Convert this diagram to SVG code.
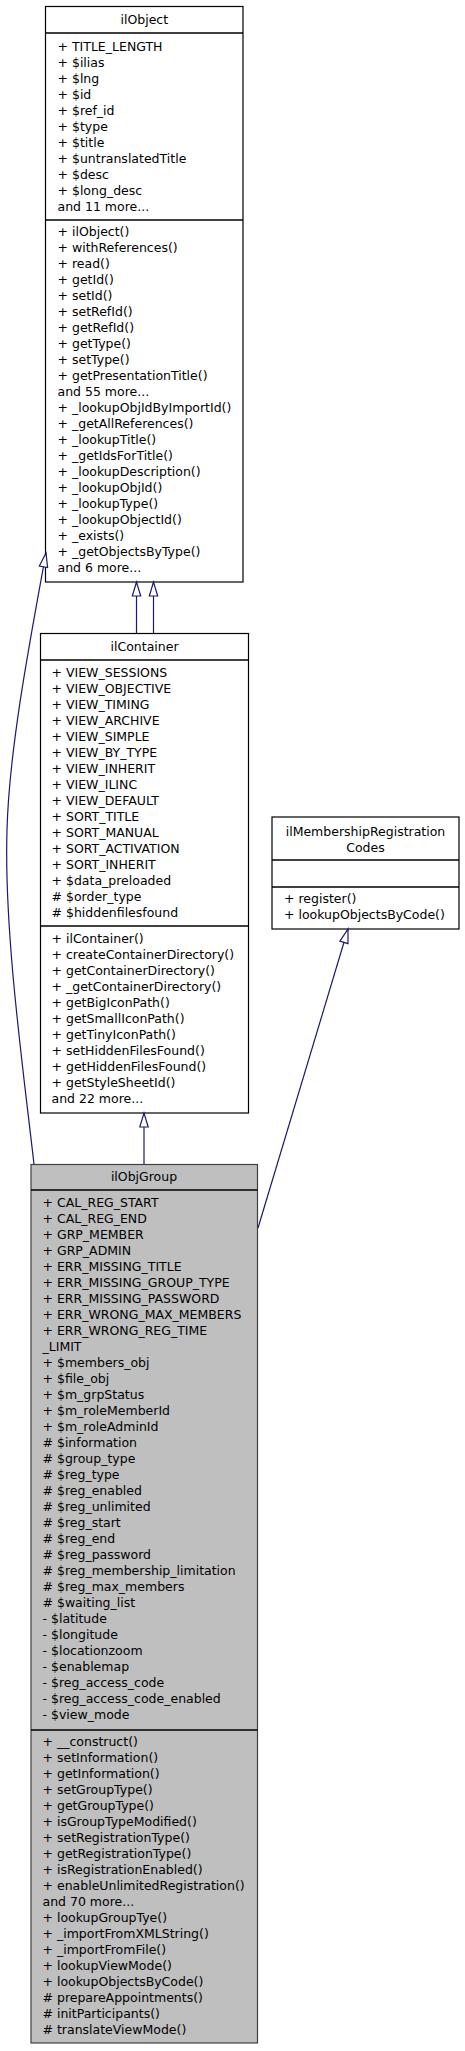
<svg xmlns="http://www.w3.org/2000/svg" width="465" height="2051" viewBox="0 0 465 2051">
<style>
text{font-family:"DejaVu Sans","Liberation Sans",sans-serif;font-size:12.5px;fill:#000}
.t{text-anchor:middle}
.box{fill:#fff;stroke:#000;stroke-width:1.2}
.cur{fill:#bfbfbf;stroke:#404040;stroke-width:1.2}
.sep{stroke:#000;stroke-width:1.5}
.edge{fill:none;stroke:#191970;stroke-width:1.2;marker-end:url(#inh)}
</style>
<defs>
<marker id="inh" markerUnits="userSpaceOnUse" viewBox="-1 -6 17 12" refX="14" refY="0" markerWidth="17" markerHeight="12" orient="auto" overflow="visible">
<path d="M0,-4.2 L14,0 L0,4.2 Z" fill="#fff" stroke="#191970" stroke-width="1.2"/>
</marker>
</defs>
<rect width="465" height="2051" fill="#fff"/>

<g id="ilObject">
<rect class="box" x="45.5" y="6.5" width="197.5" height="575.5"/>
<line class="sep" x1="45.5" y1="33" x2="243" y2="33"/>
<line class="sep" x1="45.5" y1="220" x2="243" y2="220"/>
<text class="t" x="144.3" y="23.5">ilObject</text>
<text x="57.5" y="50.5">+ TITLE_LENGTH</text>
<text x="57.5" y="66.5">+ $ilias</text>
<text x="57.5" y="82.5">+ $lng</text>
<text x="57.5" y="98.5">+ $id</text>
<text x="57.5" y="114.5">+ $ref_id</text>
<text x="57.5" y="130.5">+ $type</text>
<text x="57.5" y="146.5">+ $title</text>
<text x="57.5" y="162.5">+ $untranslatedTitle</text>
<text x="57.5" y="178.5">+ $desc</text>
<text x="57.5" y="194.5">+ $long_desc</text>
<text x="57.5" y="210.5">and 11 more...</text>
<text x="57.5" y="235.5">+ ilObject()</text>
<text x="57.5" y="251.5">+ withReferences()</text>
<text x="57.5" y="267.5">+ read()</text>
<text x="57.5" y="283.5">+ getId()</text>
<text x="57.5" y="299.5">+ setId()</text>
<text x="57.5" y="315.5">+ setRefId()</text>
<text x="57.5" y="331.5">+ getRefId()</text>
<text x="57.5" y="347.5">+ getType()</text>
<text x="57.5" y="363.5">+ setType()</text>
<text x="57.5" y="379.5">+ getPresentationTitle()</text>
<text x="57.5" y="395.5">and 55 more...</text>
<text x="57.5" y="411.5">+ _lookupObjIdByImportId()</text>
<text x="57.5" y="427.5">+ _getAllReferences()</text>
<text x="57.5" y="443.5">+ _lookupTitle()</text>
<text x="57.5" y="459.5">+ _getIdsForTitle()</text>
<text x="57.5" y="475.5">+ _lookupDescription()</text>
<text x="57.5" y="491.5">+ _lookupObjId()</text>
<text x="57.5" y="507.5">+ _lookupType()</text>
<text x="57.5" y="523.5">+ _lookupObjectId()</text>
<text x="57.5" y="539.5">+ _exists()</text>
<text x="57.5" y="555.5">+ _getObjectsByType()</text>
<text x="57.5" y="571.5">and 6 more...</text>
</g>

<g id="ilContainer">
<rect class="box" x="40.5" y="633.5" width="208" height="479.5"/>
<line class="sep" x1="40.5" y1="660" x2="248.5" y2="660"/>
<line class="sep" x1="40.5" y1="926" x2="248.5" y2="926"/>
<text class="t" x="144.5" y="650.5">ilContainer</text>
<text x="51.5" y="676.5">+ VIEW_SESSIONS</text>
<text x="51.5" y="692.5">+ VIEW_OBJECTIVE</text>
<text x="51.5" y="708.5">+ VIEW_TIMING</text>
<text x="51.5" y="724.5">+ VIEW_ARCHIVE</text>
<text x="51.5" y="740.5">+ VIEW_SIMPLE</text>
<text x="51.5" y="756.5">+ VIEW_BY_TYPE</text>
<text x="51.5" y="772.5">+ VIEW_INHERIT</text>
<text x="51.5" y="788.5">+ VIEW_ILINC</text>
<text x="51.5" y="804.5">+ VIEW_DEFAULT</text>
<text x="51.5" y="820.5">+ SORT_TITLE</text>
<text x="51.5" y="836.5">+ SORT_MANUAL</text>
<text x="51.5" y="852.5">+ SORT_ACTIVATION</text>
<text x="51.5" y="868.5">+ SORT_INHERIT</text>
<text x="51.5" y="884.5">+ $data_preloaded</text>
<text x="51.5" y="900.5"># $order_type</text>
<text x="51.5" y="916.5"># $hiddenfilesfound</text>
<text x="51.5" y="943">+ ilContainer()</text>
<text x="51.5" y="959">+ createContainerDirectory()</text>
<text x="51.5" y="975">+ getContainerDirectory()</text>
<text x="51.5" y="991">+ _getContainerDirectory()</text>
<text x="51.5" y="1007">+ getBigIconPath()</text>
<text x="51.5" y="1023">+ getSmallIconPath()</text>
<text x="51.5" y="1039">+ getTinyIconPath()</text>
<text x="51.5" y="1055">+ setHiddenFilesFound()</text>
<text x="51.5" y="1071">+ getHiddenFilesFound()</text>
<text x="51.5" y="1087">+ getStyleSheetId()</text>
<text x="51.5" y="1103">and 22 more...</text>
</g>

<g id="ilMembershipRegistrationCodes">
<rect class="box" x="272" y="817" width="187" height="112"/>
<line class="sep" x1="272" y1="860" x2="459" y2="860"/>
<line class="sep" x1="272" y1="887" x2="459" y2="887"/>
<text class="t" x="365.5" y="835.5">ilMembershipRegistration</text>
<text class="t" x="365.5" y="851.5">Codes</text>
<text x="284" y="903">+ register()</text>
<text x="284" y="919">+ lookupObjectsByCode()</text>
</g>

<g id="ilObjGroup">
<rect class="cur" x="31" y="1164.5" width="226.5" height="878.5"/>
<line class="sep" x1="31" y1="1190" x2="257.5" y2="1190"/>
<line class="sep" x1="31" y1="1730" x2="257.5" y2="1730"/>
<text class="t" x="144" y="1181">ilObjGroup</text>
<text x="42.5" y="1207">+ CAL_REG_START</text>
<text x="42.5" y="1223">+ CAL_REG_END</text>
<text x="42.5" y="1239">+ GRP_MEMBER</text>
<text x="42.5" y="1255">+ GRP_ADMIN</text>
<text x="42.5" y="1271">+ ERR_MISSING_TITLE</text>
<text x="42.5" y="1287">+ ERR_MISSING_GROUP_TYPE</text>
<text x="42.5" y="1303">+ ERR_MISSING_PASSWORD</text>
<text x="42.5" y="1319">+ ERR_WRONG_MAX_MEMBERS</text>
<text x="42.5" y="1335">+ ERR_WRONG_REG_TIME</text>
<text x="42.5" y="1351">_LIMIT</text>
<text x="42.5" y="1367">+ $members_obj</text>
<text x="42.5" y="1383">+ $file_obj</text>
<text x="42.5" y="1399">+ $m_grpStatus</text>
<text x="42.5" y="1415">+ $m_roleMemberId</text>
<text x="42.5" y="1431">+ $m_roleAdminId</text>
<text x="42.5" y="1447"># $information</text>
<text x="42.5" y="1463"># $group_type</text>
<text x="42.5" y="1479"># $reg_type</text>
<text x="42.5" y="1495"># $reg_enabled</text>
<text x="42.5" y="1511"># $reg_unlimited</text>
<text x="42.5" y="1527"># $reg_start</text>
<text x="42.5" y="1543"># $reg_end</text>
<text x="42.5" y="1559"># $reg_password</text>
<text x="42.5" y="1575"># $reg_membership_limitation</text>
<text x="42.5" y="1591"># $reg_max_members</text>
<text x="42.5" y="1607"># $waiting_list</text>
<text x="42.5" y="1623">- $latitude</text>
<text x="42.5" y="1639">- $longitude</text>
<text x="42.5" y="1655">- $locationzoom</text>
<text x="42.5" y="1671">- $enablemap</text>
<text x="42.5" y="1687">- $reg_access_code</text>
<text x="42.5" y="1703">- $reg_access_code_enabled</text>
<text x="42.5" y="1719">- $view_mode</text>
<text x="42.5" y="1745.5">+ __construct()</text>
<text x="42.5" y="1761.5">+ setInformation()</text>
<text x="42.5" y="1777.5">+ getInformation()</text>
<text x="42.5" y="1793.5">+ setGroupType()</text>
<text x="42.5" y="1809.5">+ getGroupType()</text>
<text x="42.5" y="1825.5">+ isGroupTypeModified()</text>
<text x="42.5" y="1841.5">+ setRegistrationType()</text>
<text x="42.5" y="1857.5">+ getRegistrationType()</text>
<text x="42.5" y="1873.5">+ isRegistrationEnabled()</text>
<text x="42.5" y="1889.5">+ enableUnlimitedRegistration()</text>
<text x="42.5" y="1905.5">and 70 more...</text>
<text x="42.5" y="1921.5">+ lookupGroupTye()</text>
<text x="42.5" y="1937.5">+ _importFromXMLString()</text>
<text x="42.5" y="1953.5">+ _importFromFile()</text>
<text x="42.5" y="1969.5">+ lookupViewMode()</text>
<text x="42.5" y="1985.5">+ lookupObjectsByCode()</text>
<text x="42.5" y="2001.5"># prepareAppointments()</text>
<text x="42.5" y="2017.5"># initParticipants()</text>
<text x="42.5" y="2033.5"># translateViewMode()</text>
</g>

<g id="connectors">
<path class="edge" d="M136.5,633 L136.5,582"/>
<path class="edge" d="M153.5,633 L153.5,582"/>
<path class="edge" d="M144,1164 L144,1113"/>
<path class="edge" d="M258,1228 L348,929"/>
<path class="edge" d="M34,1164 C22,1060 4,930 7,830 C9,750 30,640 46,553"/>
</g>
</svg>
